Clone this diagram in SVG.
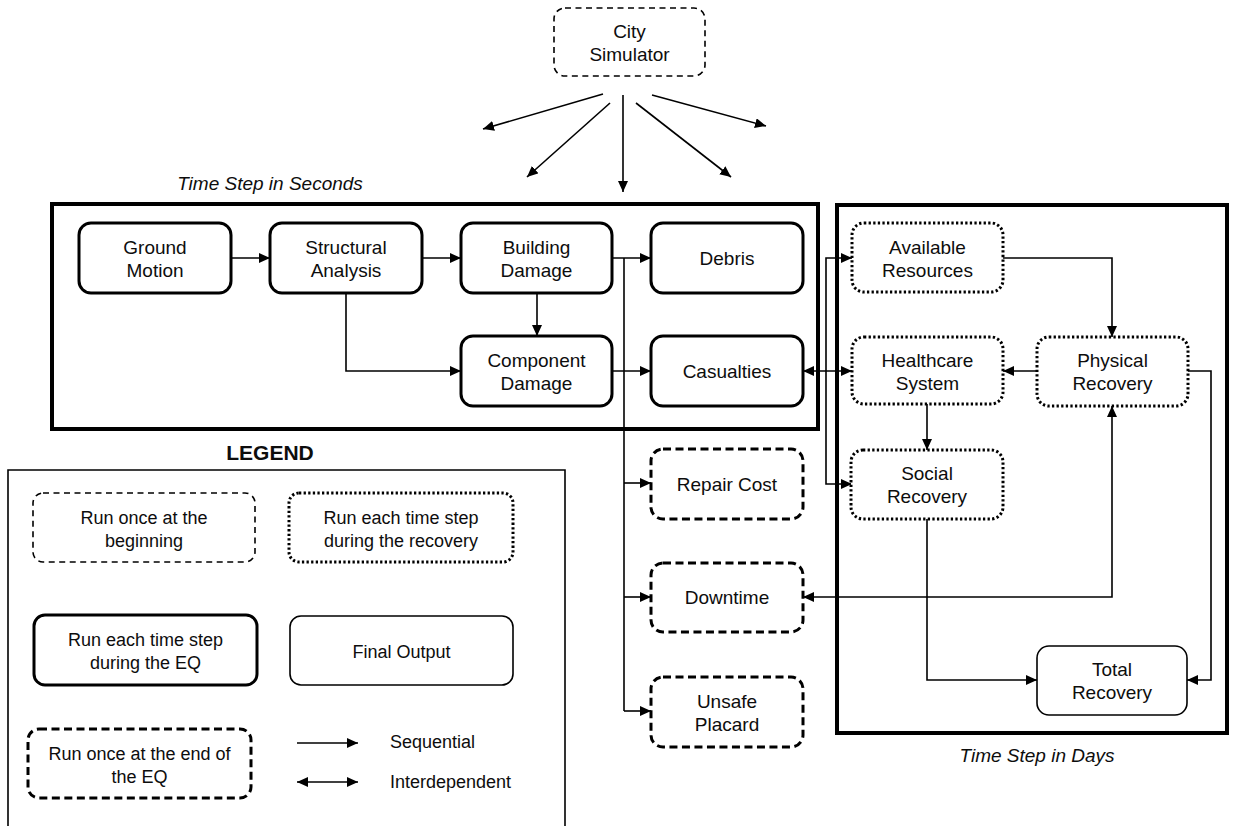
<svg xmlns="http://www.w3.org/2000/svg" width="1233" height="826" viewBox="0 0 1233 826">
  <defs>
    <marker id="arrow" markerUnits="userSpaceOnUse" markerWidth="12" markerHeight="11" refX="11" refY="5" orient="auto-start-reverse">
      <path d="M0,0 L11,5 L0,10 z" fill="#000"/>
    </marker>
    <style>
      text { font-family: "Liberation Sans", Arial, sans-serif; fill: #0d0d0d; }
      .lbl { font-size: 19px; text-anchor: middle; }
      .leg { font-size: 18px; text-anchor: middle; }
      .cap { font-size: 19px; font-style: italic; text-anchor: middle; }
      .frame { fill: none; stroke: #000; stroke-width: 4; }
      .eq { fill: #fff; stroke: #000; stroke-width: 3; }
      .end { fill: #fff; stroke: #000; stroke-width: 3; stroke-dasharray: 8 4.5; }
      .rec { fill: #fff; stroke: #000; stroke-width: 3; stroke-dasharray: 2.3 2.3; }
      .begin { fill: #fff; stroke: #000; stroke-width: 1.6; stroke-dasharray: 6 4.5; }
      .out { fill: #fff; stroke: #000; stroke-width: 1.6; }
      .conn { fill: none; stroke: #000; stroke-width: 1.6; }
    </style>
  </defs>

  <rect width="1233" height="826" fill="#fff"/>

  <!-- time-step frames -->
  <g id="frame-seconds">
    <rect class="frame" x="52" y="204" width="766" height="225"/>
    <text class="cap" x="270" y="190">Time Step in Seconds</text>
  </g>
  <g id="frame-days">
    <rect class="frame" x="837" y="205" width="390" height="528"/>
    <text class="cap" x="1037" y="762">Time Step in Days</text>
  </g>

  <!-- connectors -->
  <g id="connectors">
    <!-- city simulator fan-out -->
    <line class="conn" x1="603" y1="94" x2="483" y2="129" marker-end="url(#arrow)"/>
    <line class="conn" x1="610" y1="103" x2="527" y2="177" marker-end="url(#arrow)"/>
    <line class="conn" x1="623" y1="95" x2="623" y2="192" marker-end="url(#arrow)"/>
    <line class="conn" x1="636" y1="103" x2="731" y2="177" marker-end="url(#arrow)"/>
    <line class="conn" x1="652" y1="95" x2="766" y2="126" marker-end="url(#arrow)"/>

    <!-- earthquake phase -->
    <line class="conn" x1="231" y1="258" x2="270" y2="258" marker-end="url(#arrow)"/>
    <line class="conn" x1="422" y1="258" x2="461" y2="258" marker-end="url(#arrow)"/>
    <path class="conn" d="M346,293 V371 H461" marker-end="url(#arrow)"/>
    <line class="conn" x1="537" y1="293" x2="537" y2="336" marker-end="url(#arrow)"/>
    <line class="conn" x1="612" y1="258" x2="651" y2="258" marker-end="url(#arrow)"/>
    <line class="conn" x1="612" y1="371" x2="651" y2="371" marker-end="url(#arrow)"/>

    <!-- end-of-EQ outputs -->
    <path class="conn" d="M624,258 V711"/>
    <line class="conn" x1="624" y1="483" x2="651" y2="483" marker-end="url(#arrow)"/>
    <line class="conn" x1="624" y1="597" x2="651" y2="597" marker-end="url(#arrow)"/>
    <line class="conn" x1="624" y1="711" x2="651" y2="711" marker-end="url(#arrow)"/>

    <!-- links into recovery -->
    <line class="conn" x1="803" y1="371" x2="852" y2="371" marker-start="url(#arrow)" marker-end="url(#arrow)"/>
    <path class="conn" d="M852,258 H826 V484 H852" marker-start="url(#arrow)" marker-end="url(#arrow)"/>

    <!-- recovery phase -->
    <path class="conn" d="M1003,258 H1112 V337" marker-end="url(#arrow)"/>
    <line class="conn" x1="1037" y1="371" x2="1003" y2="371" marker-end="url(#arrow)"/>
    <line class="conn" x1="927" y1="403" x2="927" y2="450" marker-end="url(#arrow)"/>
    <path class="conn" d="M1188,371 H1211 V680 H1187" marker-end="url(#arrow)"/>
    <path class="conn" d="M927,519 V680 H1037" marker-end="url(#arrow)"/>
    <path class="conn" d="M803,597 H1112 V406" marker-start="url(#arrow)" marker-end="url(#arrow)"/>
  </g>

  <!-- nodes -->
  <g id="city-simulator">
    <rect class="begin" x="554" y="8" width="151" height="68" rx="11"/>
    <text class="lbl" x="629.5" y="38">City</text>
    <text class="lbl" x="629.5" y="61">Simulator</text>
  </g>

  <g id="ground-motion">
    <rect class="eq" x="79" y="223" width="152" height="70" rx="12"/>
    <text class="lbl" x="155" y="254">Ground</text>
    <text class="lbl" x="155" y="277">Motion</text>
  </g>
  <g id="structural-analysis">
    <rect class="eq" x="270" y="223" width="152" height="70" rx="12"/>
    <text class="lbl" x="346" y="254">Structural</text>
    <text class="lbl" x="346" y="277">Analysis</text>
  </g>
  <g id="building-damage">
    <rect class="eq" x="461" y="223" width="151" height="70" rx="12"/>
    <text class="lbl" x="536.5" y="254">Building</text>
    <text class="lbl" x="536.5" y="277">Damage</text>
  </g>
  <g id="debris">
    <rect class="eq" x="651" y="223" width="152" height="70" rx="12"/>
    <text class="lbl" x="727" y="265">Debris</text>
  </g>
  <g id="component-damage">
    <rect class="eq" x="461" y="336" width="151" height="70" rx="12"/>
    <text class="lbl" x="536.5" y="367">Component</text>
    <text class="lbl" x="536.5" y="390">Damage</text>
  </g>
  <g id="casualties">
    <rect class="eq" x="651" y="336" width="152" height="70" rx="12"/>
    <text class="lbl" x="727" y="378">Casualties</text>
  </g>

  <g id="repair-cost">
    <rect class="end" x="651" y="449" width="152" height="70" rx="12"/>
    <text class="lbl" x="727" y="491">Repair Cost</text>
  </g>
  <g id="downtime">
    <rect class="end" x="651" y="563" width="152" height="69" rx="12"/>
    <text class="lbl" x="727" y="604">Downtime</text>
  </g>
  <g id="unsafe-placard">
    <rect class="end" x="651" y="677" width="152" height="70" rx="12"/>
    <text class="lbl" x="727" y="708">Unsafe</text>
    <text class="lbl" x="727" y="731">Placard</text>
  </g>

  <g id="available-resources">
    <rect class="rec" x="852" y="223" width="151" height="69" rx="12"/>
    <text class="lbl" x="927.5" y="254">Available</text>
    <text class="lbl" x="927.5" y="277">Resources</text>
  </g>
  <g id="healthcare-system">
    <rect class="rec" x="852" y="337" width="151" height="67" rx="12"/>
    <text class="lbl" x="927.5" y="367">Healthcare</text>
    <text class="lbl" x="927.5" y="390">System</text>
  </g>
  <g id="physical-recovery">
    <rect class="rec" x="1037" y="337" width="151" height="69" rx="12"/>
    <text class="lbl" x="1112.5" y="367">Physical</text>
    <text class="lbl" x="1112.5" y="390">Recovery</text>
  </g>
  <g id="social-recovery">
    <rect class="rec" x="851" y="450" width="152" height="69" rx="12"/>
    <text class="lbl" x="927" y="480">Social</text>
    <text class="lbl" x="927" y="503">Recovery</text>
  </g>
  <g id="total-recovery">
    <rect class="out" x="1037" y="646" width="150" height="69" rx="12"/>
    <text class="lbl" x="1112" y="676">Total</text>
    <text class="lbl" x="1112" y="699">Recovery</text>
  </g>

  <!-- legend -->
  <g id="legend">
    <text x="270" y="460" font-size="21" font-weight="bold" text-anchor="middle">LEGEND</text>
    <path d="M8,830 V470 H565 V830" fill="none" stroke="#000" stroke-width="1.6"/>

    <rect class="begin" x="33" y="493" width="222" height="69" rx="10"/>
    <text class="leg" x="144" y="524">Run once at the</text>
    <text class="leg" x="144" y="547">beginning</text>

    <rect class="rec" x="289" y="493" width="224" height="69" rx="10"/>
    <text class="leg" x="401" y="524">Run each time step</text>
    <text class="leg" x="401" y="547">during the recovery</text>

    <rect class="eq" x="34" y="615" width="223" height="70" rx="11"/>
    <text class="leg" x="145.5" y="646">Run each time step</text>
    <text class="leg" x="145.5" y="669">during the EQ</text>

    <rect class="out" x="290" y="616" width="223" height="69" rx="11"/>
    <text class="leg" x="401.5" y="658">Final Output</text>

    <rect class="end" x="28" y="729" width="223" height="69" rx="11"/>
    <text class="leg" x="139.5" y="760">Run once at the end of</text>
    <text class="leg" x="139.5" y="783">the EQ</text>

    <line class="conn" x1="297" y1="743" x2="358" y2="743" marker-end="url(#arrow)"/>
    <text x="390" y="748" font-size="18">Sequential</text>
    <line class="conn" x1="297" y1="782" x2="358" y2="782" marker-start="url(#arrow)" marker-end="url(#arrow)"/>
    <text x="390" y="788" font-size="18">Interdependent</text>
  </g>
</svg>
